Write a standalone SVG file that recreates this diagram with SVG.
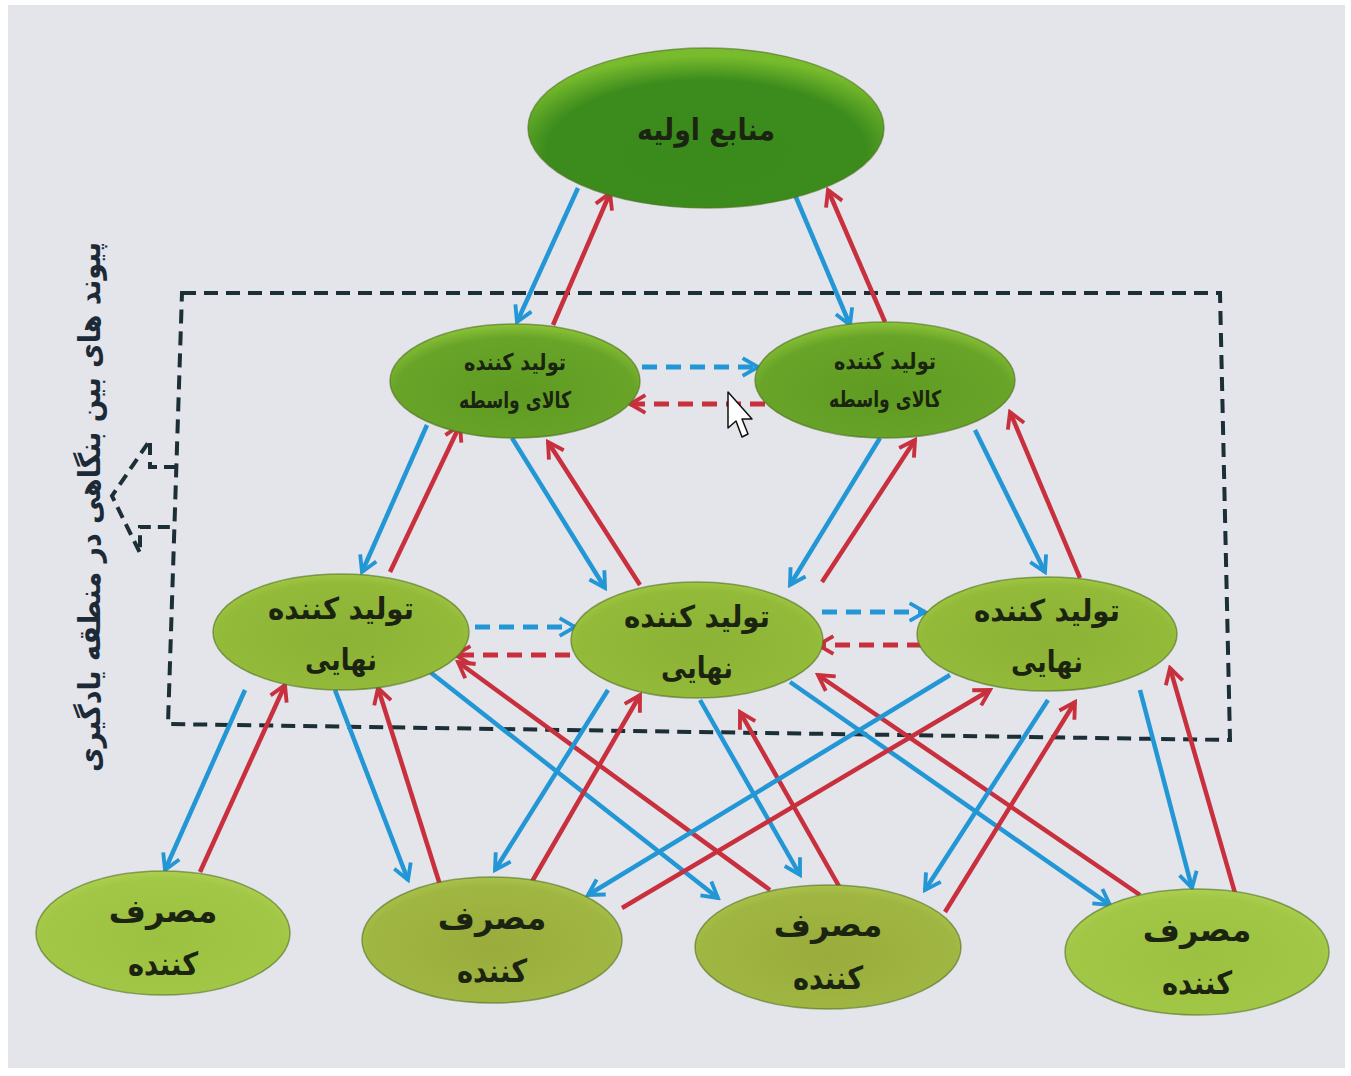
<svg xmlns="http://www.w3.org/2000/svg" width="1351" height="1076" viewBox="0 0 1351 1076">
<defs>
<style>
.lbl{font-family:"DejaVu Sans",sans-serif;font-weight:bold;fill:#1b2410;text-anchor:middle}
.b{stroke:#2397d6;stroke-width:4.5;fill:none;marker-end:url(#hb)}
.r{stroke:#c8303e;stroke-width:4.5;fill:none;marker-end:url(#hr)}
.d{stroke-dasharray:15 9;stroke-width:5}
.node{stroke:#4d6e1c;stroke-width:1.5;stroke-opacity:0.6}
</style>
<marker id="hb" viewBox="0 0 20 20" refX="17" refY="10" markerWidth="22" markerHeight="22" markerUnits="userSpaceOnUse" orient="auto">
<path d="M3,2 L17,10 L3,18" fill="none" stroke="#2397d6" stroke-width="3.5" stroke-linejoin="miter"/>
</marker>
<marker id="hr" viewBox="0 0 20 20" refX="17" refY="10" markerWidth="22" markerHeight="22" markerUnits="userSpaceOnUse" orient="auto">
<path d="M3,2 L17,10 L3,18" fill="none" stroke="#c8303e" stroke-width="3.5" stroke-linejoin="miter"/>
</marker>
<radialGradient id="gTop" cx="50%" cy="65%" r="60%">
<stop offset="0" stop-color="#3a8a1c"/><stop offset="0.75" stop-color="#3c8c1d"/><stop offset="1" stop-color="#78bb2c"/>
</radialGradient>
<radialGradient id="gMid" cx="50%" cy="60%" r="60%">
<stop offset="0" stop-color="#5f9b22"/><stop offset="0.8" stop-color="#68a428"/><stop offset="1" stop-color="#8cc438"/>
</radialGradient>
<radialGradient id="gFin" cx="50%" cy="55%" r="60%">
<stop offset="0" stop-color="#8cb236"/><stop offset="0.8" stop-color="#94ba3a"/><stop offset="1" stop-color="#a8d048"/>
</radialGradient>
<radialGradient id="gCon" cx="50%" cy="55%" r="60%">
<stop offset="0" stop-color="#9cc040"/><stop offset="0.8" stop-color="#a2c646"/><stop offset="1" stop-color="#b4d658"/>
</radialGradient>
<radialGradient id="gCon2" cx="50%" cy="55%" r="60%">
<stop offset="0" stop-color="#9aac3c"/><stop offset="0.8" stop-color="#a0b642"/><stop offset="1" stop-color="#b0cc52"/>
</radialGradient>
</defs>
<rect x="0" y="0" width="1351" height="1076" fill="#ffffff"/>
<rect x="8" y="5" width="1337" height="1063" fill="#e3e5ea"/>

<g id="frame">
<polygon points="182,293 1220,293 1230,740 168,724" fill="none" stroke="#1c2e36" stroke-width="4" stroke-dasharray="14 8"/>
<polyline points="176,467 150,467 150,440 112,496 140,553 140,527 176,527" fill="none" stroke="#1c2e36" stroke-width="4" stroke-dasharray="12 7"/>
<text transform="translate(100,507) rotate(-90)" font-family="DejaVu Sans,sans-serif" font-weight="bold" font-size="30" fill="#1c2a38" text-anchor="middle" textLength="530" lengthAdjust="spacingAndGlyphs">پیوند های بین بنگاهی در منطقه یادگیری</text>
</g>

<g id="connectors">
<line class="b" x1="578" y1="188" x2="517" y2="322"/>
<line class="r" x1="553" y1="325" x2="610" y2="193"/>
<line class="b" x1="795" y1="195" x2="850" y2="325"/>
<line class="r" x1="885" y1="322" x2="828" y2="190"/>
<line class="b d" x1="642" y1="367" x2="758" y2="367"/>
<line class="r d" x1="765" y1="404" x2="630" y2="404"/>
<line class="b" x1="427" y1="425" x2="362" y2="572"/>
<line class="r" x1="390" y1="572" x2="460" y2="425"/>
<line class="b" x1="512" y1="438" x2="605" y2="588"/>
<line class="r" x1="640" y1="585" x2="548" y2="442"/>
<line class="b" x1="880" y1="438" x2="790" y2="585"/>
<line class="r" x1="822" y1="582" x2="915" y2="440"/>
<line class="b" x1="975" y1="430" x2="1045" y2="572"/>
<line class="r" x1="1080" y1="578" x2="1010" y2="412"/>
<line class="b d" x1="475" y1="627" x2="575" y2="627"/>
<line class="r d" x1="570" y1="655" x2="455" y2="655"/>
<line class="b d" x1="822" y1="612" x2="925" y2="612"/>
<line class="r d" x1="922" y1="645" x2="818" y2="645"/>
<line class="b" x1="245" y1="690" x2="165" y2="870"/>
<line class="r" x1="200" y1="872" x2="285" y2="685"/>
<line class="b" x1="335" y1="690" x2="408" y2="880"/>
<line class="r" x1="440" y1="885" x2="378" y2="688"/>
<line class="b" x1="430" y1="672" x2="718" y2="898"/>
<line class="r" x1="770" y1="890" x2="458" y2="662"/>
<line class="b" x1="608" y1="690" x2="495" y2="870"/>
<line class="r" x1="530" y1="885" x2="640" y2="695"/>
<line class="b" x1="700" y1="700" x2="800" y2="875"/>
<line class="r" x1="840" y1="888" x2="740" y2="712"/>
<line class="b" x1="790" y1="682" x2="1110" y2="905"/>
<line class="r" x1="1140" y1="895" x2="818" y2="675"/>
<line class="b" x1="950" y1="675" x2="588" y2="895"/>
<line class="r" x1="622" y1="908" x2="990" y2="690"/>
<line class="b" x1="1048" y1="700" x2="925" y2="890"/>
<line class="r" x1="945" y1="912" x2="1075" y2="702"/>
<line class="b" x1="1140" y1="690" x2="1192" y2="888"/>
<line class="r" x1="1235" y1="893" x2="1170" y2="668"/>
</g>

<g id="n-top">
<ellipse class="node" cx="706" cy="128" rx="178" ry="80" fill="url(#gTop)"/>
<text class="lbl" x="706" y="140" font-size="30" textLength="138" lengthAdjust="spacingAndGlyphs">منابع اولیه</text>
</g>
<g id="n-il">
<ellipse class="node" cx="515" cy="381" rx="125" ry="57" fill="url(#gMid)"/>
<text class="lbl" x="515" y="370" font-size="23" textLength="102" lengthAdjust="spacingAndGlyphs">تولید کننده</text>
<text class="lbl" x="515" y="408" font-size="23" textLength="112" lengthAdjust="spacingAndGlyphs">کالای واسطه</text>
</g>
<g id="n-ir">
<ellipse class="node" cx="885" cy="380" rx="130" ry="58" fill="url(#gMid)"/>
<text class="lbl" x="885" y="369" font-size="23" textLength="102" lengthAdjust="spacingAndGlyphs">تولید کننده</text>
<text class="lbl" x="885" y="407" font-size="23" textLength="112" lengthAdjust="spacingAndGlyphs">کالای واسطه</text>
</g>
<g id="n-fl">
<ellipse class="node" cx="341" cy="632" rx="128" ry="58" fill="url(#gFin)"/>
<text class="lbl" x="341" y="619" font-size="30" textLength="146" lengthAdjust="spacingAndGlyphs">تولید کننده</text>
<text class="lbl" x="341" y="670" font-size="30" textLength="72" lengthAdjust="spacingAndGlyphs">نهایی</text>
</g>
<g id="n-fc">
<ellipse class="node" cx="697" cy="640" rx="126" ry="58" fill="url(#gFin)"/>
<text class="lbl" x="697" y="627" font-size="30" textLength="146" lengthAdjust="spacingAndGlyphs">تولید کننده</text>
<text class="lbl" x="697" y="678" font-size="30" textLength="72" lengthAdjust="spacingAndGlyphs">نهایی</text>
</g>
<g id="n-fr">
<ellipse class="node" cx="1047" cy="634" rx="130" ry="57" fill="url(#gFin)"/>
<text class="lbl" x="1047" y="621" font-size="30" textLength="146" lengthAdjust="spacingAndGlyphs">تولید کننده</text>
<text class="lbl" x="1047" y="672" font-size="30" textLength="72" lengthAdjust="spacingAndGlyphs">نهایی</text>
</g>
<g id="n-c1">
<ellipse class="node" cx="163" cy="933" rx="127" ry="62" fill="url(#gCon)"/>
<text class="lbl" x="163" y="922" font-size="32">مصرف</text>
<text class="lbl" x="163" y="975" font-size="32" textLength="70" lengthAdjust="spacingAndGlyphs">کننده</text>
</g>
<g id="n-c2">
<ellipse class="node" cx="492" cy="940" rx="130" ry="63" fill="url(#gCon2)"/>
<text class="lbl" x="492" y="929" font-size="32">مصرف</text>
<text class="lbl" x="492" y="982" font-size="32" textLength="70" lengthAdjust="spacingAndGlyphs">کننده</text>
</g>
<g id="n-c3">
<ellipse class="node" cx="828" cy="947" rx="133" ry="62" fill="url(#gCon2)"/>
<text class="lbl" x="828" y="936" font-size="32">مصرف</text>
<text class="lbl" x="828" y="989" font-size="32" textLength="70" lengthAdjust="spacingAndGlyphs">کننده</text>
</g>
<g id="n-c4">
<ellipse class="node" cx="1197" cy="952" rx="132" ry="63" fill="url(#gCon)"/>
<text class="lbl" x="1197" y="941" font-size="32">مصرف</text>
<text class="lbl" x="1197" y="994" font-size="32" textLength="70" lengthAdjust="spacingAndGlyphs">کننده</text>
</g>

<g id="cursor">
<polygon points="728,392 728,428 736,421 742,437 748,434 742,419 752,419" fill="#ffffff" stroke="#111111" stroke-width="1.5" stroke-linejoin="round"/>
</g>
</svg>
